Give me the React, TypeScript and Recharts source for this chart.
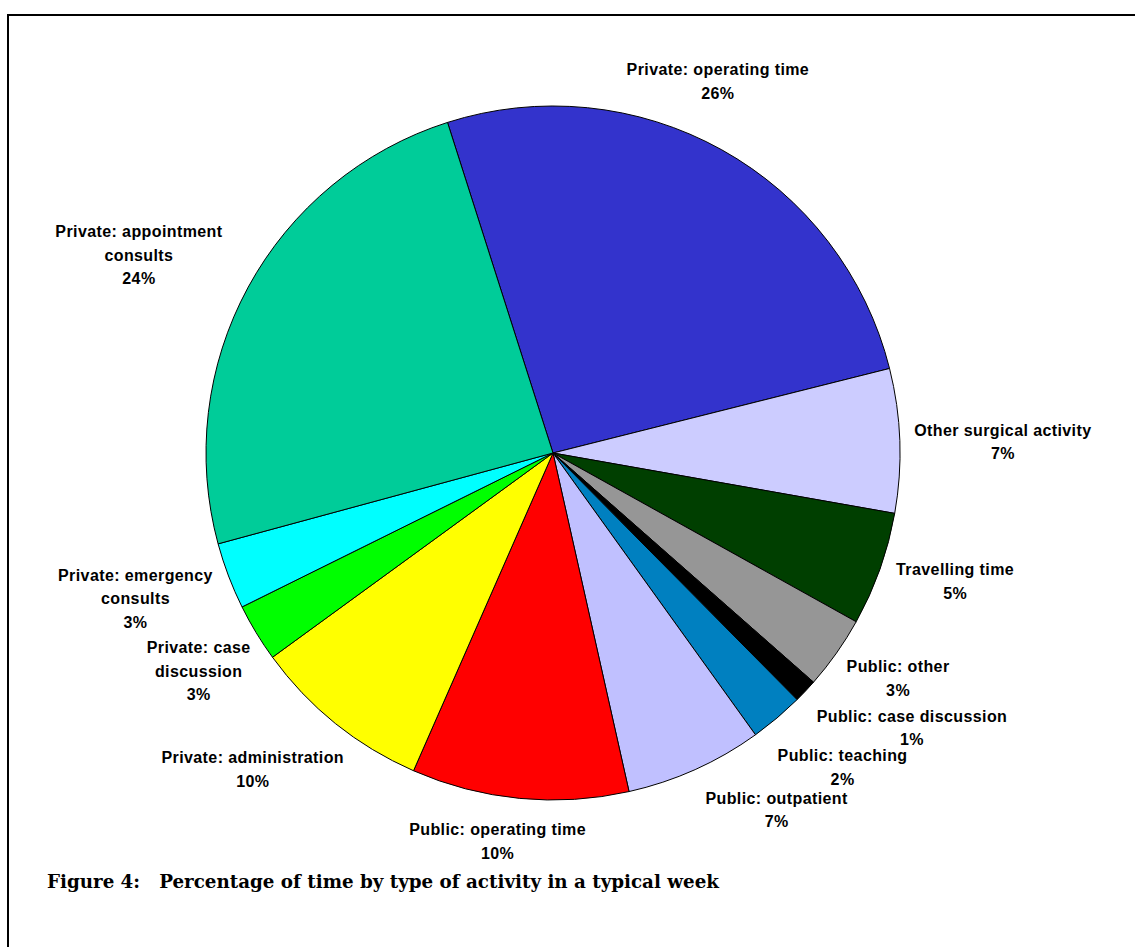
import { PieChart, Pie, Cell } from 'recharts';

// slices in clockwise order, starting at the top-left edge of "Private: operating time"
const categories = [
  'Private: operating time',
  'Other surgical activity',
  'Travelling time',
  'Public: other',
  'Public: case discussion',
  'Public: teaching',
  'Public: outpatient',
  'Public: operating time',
  'Private: administration',
  'Private: case\ndiscussion',
  'Private: emergency\nconsults',
  'Private: appointment\nconsults',
];

// share of the week (%), as drawn
const shares = [26.0, 6.7, 5.3, 3.4, 1.1, 2.5, 6.4, 10.1, 8.4, 2.7, 3.1, 24.3];

// percentages as printed on the labels
const printed = ['26%', '7%', '5%', '3%', '1%', '2%', '7%', '10%', '10%', '3%', '3%', '24%'];

const colors = [
  '#3333CC', '#CCCCFF', '#003F00', '#969696', '#000000', '#0080C0',
  '#C0C0FF', '#FF0000', '#FFFF00', '#00FF00', '#00FFFF', '#00CC99',
];

// label placement: [angle shift in degrees (clockwise), distance from centre]
const labelNudge: [number, number][] = [
  [-5.2, 407], [0.6, 450], [-1.9, 422], [-2.1, 412], [-5.9, 452], [-2.5, 427],
  [-7.9, 421], [2.6, 392], [4.7, 436], [-0.4, 416], [1.6, 442], [-3, 459],
];

const data = categories.map((name, i) => ({ name, value: shares[i], pct: printed[i] }));

const RAD = Math.PI / 180;
const LINE_H = 23.5;

const renderLabel = (props: any) => {
  const { cx, cy, midAngle, index } = props;
  const [dA, r] = labelNudge[index];
  const a = midAngle - dA;
  const x = cx + r * Math.cos(-a * RAD);
  const y = cy + r * Math.sin(-a * RAD);
  const lines = [...data[index].name.split('\n'), data[index].pct];
  const top = y - ((lines.length - 1) * LINE_H) / 2;
  return (
    <text
      x={x}
      y={top}
      textAnchor="middle"
      dominantBaseline="central"
      fontFamily="'Liberation Sans', Arial, sans-serif"
      fontWeight="bold"
      fontSize={16}
      letterSpacing={0.4}
      fill="#000"
    >
      {lines.map((l, k) => (
        <tspan key={k} x={x} dy={k === 0 ? 0 : LINE_H}>{l}</tspan>
      ))}
    </text>
  );
};

const START = 107.7;

export default function App() {
  return (
    <div style={{ position: 'absolute', left: 0, top: 0, width: 1135, height: 947, overflow: 'hidden', background: '#fff' }}>
      <div
        style={{
          position: 'absolute', left: 7, top: 14, width: 1200, height: 1000,
          borderLeft: '2.5px solid #000', borderTop: '2.5px solid #000',
        }}
      />
      <div style={{ position: 'absolute', left: 0, top: 0 }}>
        <PieChart width={1135} height={947} margin={{ top: 0, right: 0, bottom: 0, left: 0 }}>
          <Pie
            data={data}
            dataKey="value"
            nameKey="name"
            cx={553}
            cy={453}
            outerRadius={347}
            startAngle={START}
            endAngle={START - 360}
            stroke="#000"
            strokeWidth={1}
            label={renderLabel}
            labelLine={false}
            isAnimationActive={false}
          >
            {data.map((d, i) => (
              <Cell key={d.name} fill={colors[i]} />
            ))}
          </Pie>
        </PieChart>
      </div>
      <div
        style={{
          position: 'absolute', left: 47, top: 870, whiteSpace: 'pre',
          fontFamily: "'DejaVu Serif', serif", fontWeight: 'bold', fontSize: 18.3, lineHeight: '24px',
        }}
      >
        {'Figure 4:   Percentage of time by type of activity in a typical week'}
      </div>
    </div>
  );
}
